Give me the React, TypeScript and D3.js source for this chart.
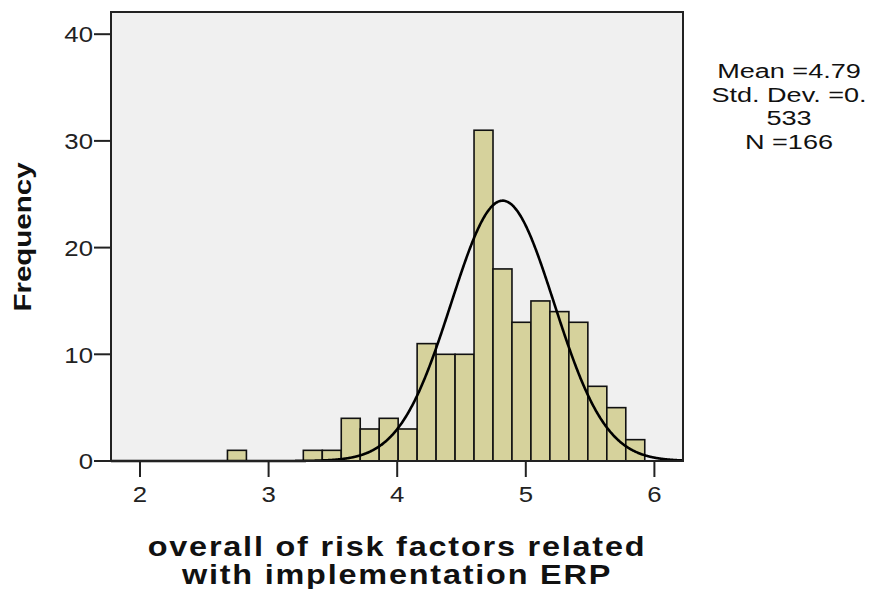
import React from "react";
import * as d3 from "d3";

// Histogram bins (lower edges) and frequencies
const binStart = 2.68;
const binWidth = 0.1475;
const frequencies = [1, 0, 0, 0, 1, 1, 4, 3, 4, 3, 11, 10, 10, 31, 18, 13, 15, 14, 13, 7, 5, 2];
const xTicks = [2, 3, 4, 5, 6];
const yTicks = [0, 10, 20, 30, 40];
const statsLines = ["Mean =4.79", "Std. Dev. =0.", "533", "N =166"];
const xTitleLines = ["overall of risk factors related", "with implementation ERP"];
const yTitle = "Frequency";
// normal curve as drawn
const curveMean = 4.82;
const curveSd = 0.4;
const curvePeak = 24.4;

const W = 887;
const H = 589;
const left = 111;
const right = 683;
const top = 12;
const bottom = 461;

export default function App() {
  const x = d3.scaleLinear().domain([1.7745, 6.2224]).range([left, right]);
  const y = d3.scaleLinear().domain([0, 42.08]).range([bottom, top]);
  const bins = frequencies.map((f, i) => ({
    x0: binStart + i * binWidth,
    x1: binStart + (i + 1) * binWidth,
    f,
  }));
  const curvePts = d3.range(1.7745, 6.2224, 0.005).map((v) => [
    v,
    curvePeak * Math.exp(-0.5 * ((v - curveMean) / curveSd) ** 2),
  ]);
  const line = d3
    .line<number[]>()
    .x((d) => x(d[0]))
    .y((d) => y(d[1]))
    .curve(d3.curveBasis);
  const font = "'Liberation Sans', Arial, sans-serif";
  return (
    <svg
      width={W}
      height={H}
      style={{ position: "absolute", left: 0, top: 0, background: "#fff" }}
      fontFamily={font}
    >
      <rect x={left} y={top} width={right - left} height={bottom - top} fill="#f0f0f0" />
      {bins
        .filter((b) => b.f > 0)
        .map((b, i) => (
          <rect
            key={i}
            x={x(b.x0)}
            y={y(b.f)}
            width={x(b.x1) - x(b.x0)}
            height={y(0) - y(b.f)}
            fill="#d6d29c"
            stroke="#111"
            strokeWidth={1.6}
          />
        ))}
      <path
        d={line(curvePts) || ""}
        fill="none"
        stroke="#000"
        strokeWidth={2.6}
      />
      <rect
        x={left}
        y={top}
        width={right - left}
        height={bottom - top}
        fill="none"
        stroke="#222"
        strokeWidth={2}
      />
      {yTicks.map((t) => (
        <g key={t}>
          <line x1={left - 17} x2={left} y1={y(t)} y2={y(t)} stroke="#222" strokeWidth={2} />
          <text
            transform={`translate(${left - 18}, ${y(t)}) scale(1.12, 1)`}
            dy="0.36em"
            textAnchor="end"
            fontSize={23}
            fill="#222"
          >
            {t}
          </text>
        </g>
      ))}
      {xTicks.map((t) => (
        <g key={t}>
          <line x1={x(t)} x2={x(t)} y1={bottom} y2={bottom + 16} stroke="#222" strokeWidth={2} />
          <text
            transform={`translate(${x(t)}, ${bottom + 41}) scale(1.12, 1)`}
            textAnchor="middle"
            fontSize={23}
            fill="#222"
          >
            {t}
          </text>
        </g>
      ))}
      <text
        transform={`translate(31, 237) rotate(-90) scale(1.18, 0.93)`}
        textAnchor="middle"
        fontSize={25}
        fontWeight="bold"
        fill="#111"
      >
        {yTitle}
      </text>
      {xTitleLines.map((s, i) => (
        <text
          key={i}
          transform={`translate(${(left + right) / 2}, ${556 + i * 28}) scale(1.2, 1)`}
          textAnchor="middle"
          fontSize={27}
          fontWeight="bold"
          letterSpacing={1.5}
          fill="#111"
        >
          {s}
        </text>
      ))}
      {statsLines.map((s, i) => (
        <text
          key={i}
          transform={`translate(789, ${78 + i * 23.7}) scale(1.29, 1)`}
          textAnchor="middle"
          fontSize={21}
          fill="#111"
        >
          {s}
        </text>
      ))}
    </svg>
  );
}
